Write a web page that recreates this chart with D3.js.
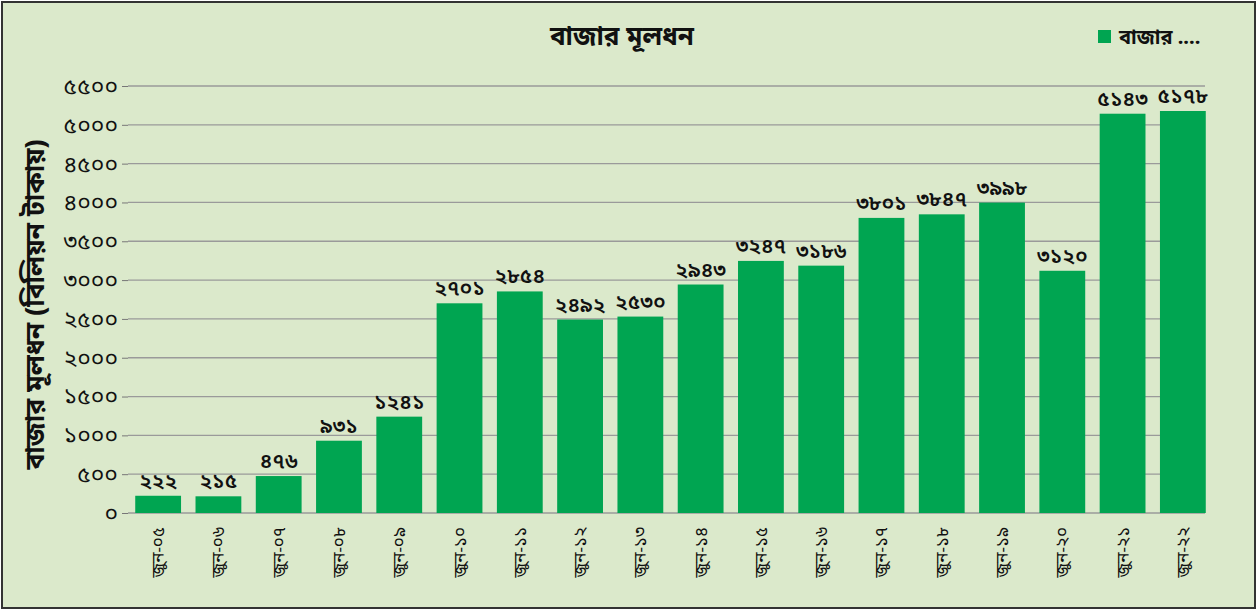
<!DOCTYPE html>
<html>
<head>
<meta charset="utf-8">
<script src="https://cdn.jsdelivr.net/npm/d3@7"></script>
<style>
  body { margin: 0; background: #fff; }
  text { font-family: "Noto Sans Bengali", "Noto Sans", "Lato", sans-serif; }
</style>
</head>
<body>
<div id="plt"></div>
<script>
// data
const categories = ["জুন-০৫","জুন-০৬","জুন-০৭","জুন-০৮","জুন-০৯","জুন-১০","জুন-১১","জুন-১২","জুন-১৩",
  "জুন-১৪","জুন-১৫","জুন-১৬","জুন-১৭","জুন-১৮","জুন-১৯","জুন-২০","জুন-২১","জুন-২২"];
const values = [222, 215, 476, 931, 1241, 2701, 2854, 2492, 2530, 2943, 3247, 3186, 3801, 3847, 3998, 3120, 5143, 5178];
const yTicks = [0, 500, 1000, 1500, 2000, 2500, 3000, 3500, 4000, 4500, 5000, 5500];

const bnDigits = "০১২৩৪৫৬৭৮৯";
const bn = n => String(n).replace(/\d/g, d => bnDigits[+d]);

const W = 1257, H = 610;
const margin = { top: 86, right: 44, bottom: 97, left: 128 };
const width = W - margin.left - margin.right;
const height = H - margin.top - margin.bottom;

const svg = d3.select("#plt").append("svg")
    .attr("width", W)
    .attr("height", H);

// background + border
svg.append("rect")
    .attr("x", 2).attr("y", 2)
    .attr("width", W - 4).attr("height", H - 4)
    .attr("fill", "#dbe9cb")
    .attr("stroke", "#333")
    .attr("stroke-width", 2);

const g = svg.append("g")
    .attr("transform", "translate(" + margin.left + "," + margin.top + ")");

const x = d3.scaleBand()
    .domain(categories)
    .range([0, width])
    .paddingInner(0.24)
    .paddingOuter(0.12);

const y = d3.scaleLinear()
    .domain([0, 5500])
    .range([height, 0]);

// gridlines
g.append("g")
  .selectAll("line")
  .data(yTicks)
  .enter()
  .append("line")
    .attr("x1", 0).attr("x2", width - 8)
    .attr("y1", d => y(d)).attr("y2", d => y(d))
    .attr("stroke", "#9a9a9a")
    .attr("stroke-width", 1.3);

// y axis
const yAxis = g.append("g")
    .call(d3.axisLeft(y).tickValues(yTicks).tickFormat(bn).tickSize(6).tickPadding(4));
yAxis.select(".domain").remove();
yAxis.selectAll(".tick line").attr("stroke", "#777");
yAxis.selectAll(".tick text")
    .attr("font-size", 23)
    .attr("fill", "#111")
    .style("font-family", "'Noto Sans Bengali', 'Noto Sans', sans-serif");

// bars
g.append("g")
  .selectAll("rect")
  .data(values)
  .enter()
  .append("rect")
    .attr("x", (d, i) => x(categories[i]))
    .attr("y", d => y(d))
    .attr("width", x.bandwidth())
    .attr("height", d => height - y(d))
    .attr("fill", "#00a551");

// value labels
g.append("g")
  .selectAll("text")
  .data(values)
  .enter()
  .append("text")
    .attr("x", (d, i) => x(categories[i]) + x.bandwidth() / 2)
    .attr("y", d => y(d) - 8)
    .attr("text-anchor", "middle")
    .attr("font-size", 21)
    .attr("font-weight", 600)
    .attr("fill", "#111")
    .text(d => bn(d));

// x labels, rotated
g.append("g")
  .selectAll("text")
  .data(categories)
  .enter()
  .append("text")
    .attr("transform", d => `translate(${x(d) + x.bandwidth() / 2 + 6},${height + 14}) rotate(-90)`)
    .attr("text-anchor", "end")
    .attr("font-size", 17)
    .attr("fill", "#111")
    .text(d => d);

// title
svg.append("text")
    .attr("x", 622).attr("y", 45)
    .attr("text-anchor", "middle")
    .attr("font-size", 26)
    .attr("font-weight", "bold")
    .attr("fill", "#111")
    .text("বাজার মূলধন");

// legend
svg.append("rect")
    .attr("x", 1098).attr("y", 30)
    .attr("width", 13).attr("height", 13)
    .attr("fill", "#00a551");
svg.append("text")
    .attr("x", 1119).attr("y", 44)
    .attr("font-size", 20)
    .attr("font-weight", "bold")
    .attr("fill", "#111")
    .text("বাজার ....");

// y axis title
svg.append("text")
    .attr("transform", `translate(44,${margin.top + height / 2 + 5}) rotate(-90)`)
    .attr("text-anchor", "middle")
    .attr("font-size", 26.5)
    .attr("font-weight", "bold")
    .attr("fill", "#111")
    .text("বাজার মূলধন (বিলিয়ন টাকায়)");
</script>
</body>
</html>
